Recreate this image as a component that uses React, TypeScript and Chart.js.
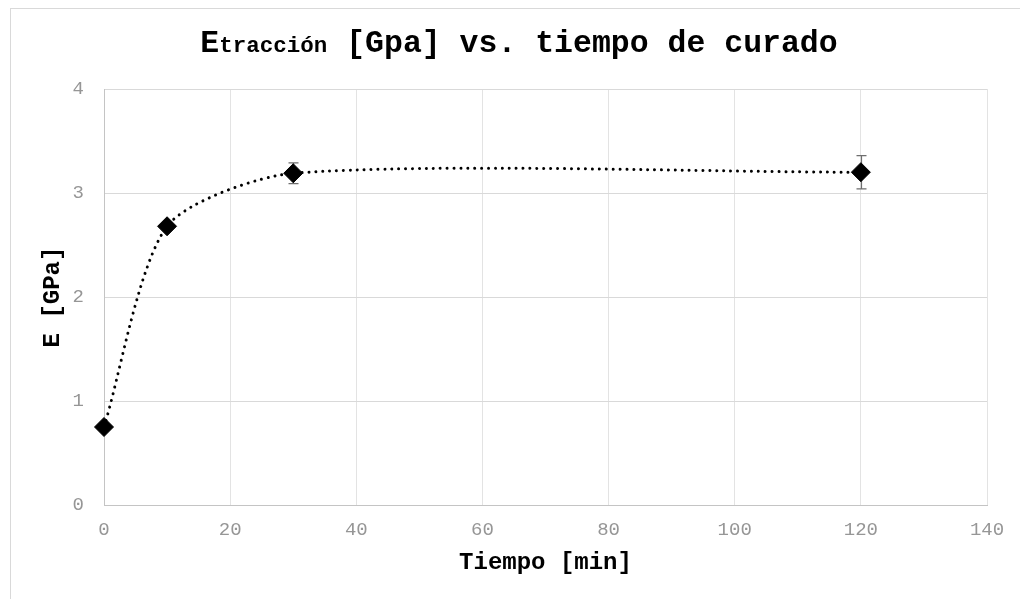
import { useEffect, useRef } from "react";
import { Chart, registerables } from "chart.js";

Chart.register(...registerables);

// Tiempo de curado [min] y módulo de tracción [GPa] con su desviación
const tiempoMin = [0, 10, 30, 120];
const moduloGPa = [0.75, 2.68, 3.19, 3.2];
const errorGPa = [0, 0, 0.1, 0.16];

const xLimites = [0, 140];
const yLimites = [0, 4];
const xPaso = 20;
const yPaso = 1;

const MONO = "'Liberation Mono', 'Courier New', monospace";

// Marco exterior del gráfico
const marcoPlugin = {
  id: "marco",
  beforeDraw(chart: any) {
    const ctx = chart.ctx;
    ctx.save();
    ctx.fillStyle = "#ffffff";
    ctx.fillRect(0, 0, chart.width, chart.height);
    ctx.strokeStyle = "#d9d9d9";
    ctx.lineWidth = 1;
    ctx.strokeRect(10.5, 8.5, chart.width + 40, chart.height + 40);
    ctx.restore();
  },
};

// Título con "tracción" en tamaño menor junto a la E
const tituloPlugin = {
  id: "tituloCompuesto",
  afterDraw(chart: any) {
    const ctx = chart.ctx;
    const grande = `bold 31.5px ${MONO}`;
    const chico = `bold 22.5px ${MONO}`;
    const partes: [string, string][] = [
      ["E", grande],
      ["tracción", chico],
      [" [Gpa] vs. tiempo de curado", grande],
    ];
    ctx.save();
    ctx.fillStyle = "#000000";
    ctx.textBaseline = "alphabetic";
    ctx.textAlign = "left";
    const anchos = partes.map(([t, f]) => {
      ctx.font = f;
      return ctx.measureText(t).width;
    });
    const total = anchos.reduce((a, b) => a + b, 0);
    let x = 519 - total / 2;
    partes.forEach(([t, f], i) => {
      ctx.font = f;
      ctx.fillText(t, x, 52);
      x += anchos[i];
    });
    ctx.restore();
  },
};

// Barras de error verticales con remates
const barrasErrorPlugin = {
  id: "barrasError",
  beforeDatasetsDraw(chart: any) {
    const { ctx, scales } = chart;
    const sx = scales.x;
    const sy = scales.y;
    ctx.save();
    ctx.strokeStyle = "#6e6e6e";
    ctx.lineWidth = 1.2;
    tiempoMin.forEach((t, i) => {
      if (!errorGPa[i]) return;
      const px = Math.round(sx.getPixelForValue(t)) + 0.5;
      const yAlto = sy.getPixelForValue(moduloGPa[i] + errorGPa[i]);
      const yBajo = sy.getPixelForValue(moduloGPa[i] - errorGPa[i]);
      ctx.beginPath();
      ctx.moveTo(px, yAlto);
      ctx.lineTo(px, yBajo);
      ctx.moveTo(px - 5, yAlto);
      ctx.lineTo(px + 5, yAlto);
      ctx.moveTo(px - 5, yBajo);
      ctx.lineTo(px + 5, yBajo);
      ctx.stroke();
    });
    ctx.restore();
  },
};

export default function App() {
  const canvasRef = useRef<HTMLCanvasElement | null>(null);

  useEffect(() => {
    const canvas = canvasRef.current;
    if (!canvas) return;
    const chart = new Chart(canvas, {
      type: "scatter",
      data: {
        datasets: [
          {
            data: tiempoMin.map((t, i) => ({ x: t, y: moduloGPa[i] })),
            showLine: true,
            clip: false,
            tension: 0.25,
            borderColor: "#000000",
            borderWidth: 3,
            borderDash: [0.01, 6.9],
            borderCapStyle: "round",
            pointStyle: "rectRot",
            pointRadius: 9.5,
            pointBackgroundColor: "#000000",
            pointBorderColor: "#000000",
            pointBorderWidth: 1,
          },
        ],
      },
      options: {
        responsive: false,
        animation: false,
        devicePixelRatio: 1,
        layout: { padding: { left: 0, right: 33, top: 89, bottom: 0 } },
        plugins: {
          legend: { display: false },
          tooltip: { enabled: false },
          title: { display: false },
        },
        scales: {
          x: {
            type: "linear",
            min: xLimites[0],
            max: xLimites[1],
            afterFit(scale: any) {
              scale.height = 94;
            },
            ticks: {
              stepSize: xPaso,
              padding: 14,
              color: "#969696",
              font: { family: MONO, size: 19 },
            },
            grid: { color: "#e3e3e3", lineWidth: 1, drawTicks: false },
            border: { color: "#c4c4c4", width: 1 },
            title: {
              display: true,
              text: "Tiempo [min]",
              color: "#000000",
              font: { family: MONO, size: 24, weight: "bold" },
              padding: { top: 0, bottom: 22 },
            },
          },
          y: {
            min: yLimites[0],
            max: yLimites[1],
            afterFit(scale: any) {
              scale.width = 104;
            },
            ticks: {
              stepSize: yPaso,
              padding: 20,
              color: "#969696",
              font: { family: MONO, size: 19 },
            },
            grid: { color: "#d9d9d9", lineWidth: 1, drawTicks: false },
            border: { color: "#c4c4c4", width: 1 },
            title: {
              display: true,
              text: "E [GPa]",
              color: "#000000",
              font: { family: MONO, size: 24, weight: "bold" },
              padding: { top: 39, bottom: 0 },
            },
          },
        },
      },
      plugins: [marcoPlugin, barrasErrorPlugin, tituloPlugin],
    } as any);
    return () => chart.destroy();
  }, []);

  return (
    <div style={{ position: "fixed", top: 0, left: 0, width: 1020, height: 599, background: "#ffffff" }}>
      <canvas ref={canvasRef} width={1020} height={599} style={{ display: "block", width: 1020, height: 599 }} />
    </div>
  );
}
